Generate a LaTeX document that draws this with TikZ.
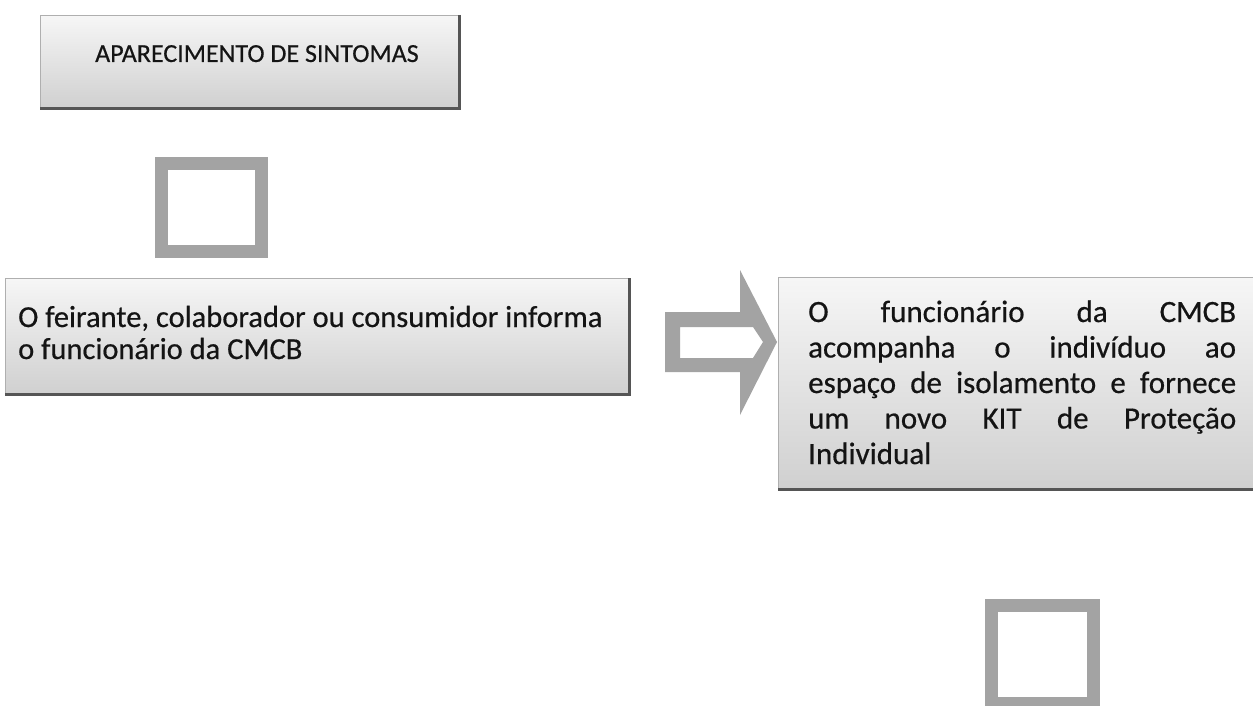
\documentclass[tikz,border=0pt]{standalone}
\usepackage{fontspec}
\setmainfont{Carlito}
\newfontfamily\scanfont{Carlito}[FakeBold=0.5]
\definecolor{boxtop}{RGB}{246,246,246}
\definecolor{boxbot}{RGB}{208,208,208}
\definecolor{edgedark}{RGB}{85,85,85}
\definecolor{edgelight}{RGB}{175,175,175}
\definecolor{hollow}{RGB}{163,163,163}
\definecolor{ink}{RGB}{20,20,20}
\tikzset{
  panel/.style={rectangle, draw=edgelight, line width=1.2pt, top color=boxtop, bottom color=boxbot, inner sep=0pt, anchor=north west},
  shadowline/.style={draw=edgedark, line width=2.8pt},
  txt/.style={inner sep=0pt, text=ink, font=\scanfont\fontsize{30.5}{35}\selectfont, anchor=base west},
  smalltxt/.style={txt, font=\scanfont\fontsize{26}{32}\selectfont},
  bigtxt/.style={txt, font=\scanfont\fontsize{31}{36}\selectfont},
  hollowsq/.style={draw=hollow, line width=13pt},
  hollowarrow/.style={fill=hollow, even odd rule, draw=none}
}
\begin{document}
\begin{tikzpicture}[x=1pt,y=-1pt]
\useasboundingbox (0,0) rectangle (1253,706);
\clip (0,0) rectangle (1253,706);
\fill[white] (0,0) rectangle (1253,706);

% box 1
\node[panel, minimum width=418, minimum height=92] (b1) at (40,15) {};
\draw[shadowline] (b1.north east) -- (b1.south east) -- (b1.south west);
\node[smalltxt] (t1) at (95,62) {APARECIMENTO DE SINTOMAS};

% square 1
\node[hollowsq, minimum width=100, minimum height=88, inner sep=0pt] (s1) at (211.5,207.5) {};

% box 2
\node[panel, minimum width=623, minimum height=115] (b2) at (5,278) {};
\draw[shadowline] (b2.north east) -- (b2.south east) -- (b2.south west);
\node[txt] (t2a) at (18,327) {O feirante, colaborador ou consumidor informa};
\node[txt] (t2b) at (18,359) {o funcionário da CMCB};

% hollow block arrow
\coordinate (a0) at (665,312);
\path[hollowarrow]
  (a0) -- (740,312) -- (740,270) -- (777,342) -- (740,415) -- (740,372) -- (665,372) -- cycle
  (680,327) -- (753,327) -- (763,342) -- (753,358) -- (680,358) -- cycle;

% box 3
\node[panel, minimum width=500, minimum height=211] (b3) at (778,277) {};
\draw[shadowline] (b3.south east) -- (b3.south west);
\node[bigtxt] (t3a) at (808,322) {\makebox[428pt][s]{O\hfill funcionário\hfill da\hfill CMCB}};
\node[bigtxt] (t3b) at (808,357.5) {\makebox[428pt][s]{acompanha\hfill o\hfill indivíduo\hfill ao}};
\node[bigtxt] (t3c) at (808,393) {\makebox[428pt][s]{espaço\hfill de\hfill isolamento\hfill e\hfill fornece}};
\node[bigtxt] (t3d) at (808,428.5) {\makebox[428pt][s]{um\hfill novo\hfill KIT\hfill de\hfill Proteção}};
\node[bigtxt] (t3e) at (808,464) {Individual};

% square 2
\node[hollowsq, minimum width=102, minimum height=98, inner sep=0pt] (s2) at (1042.5,654.5) {};
\end{tikzpicture}
\end{document}
